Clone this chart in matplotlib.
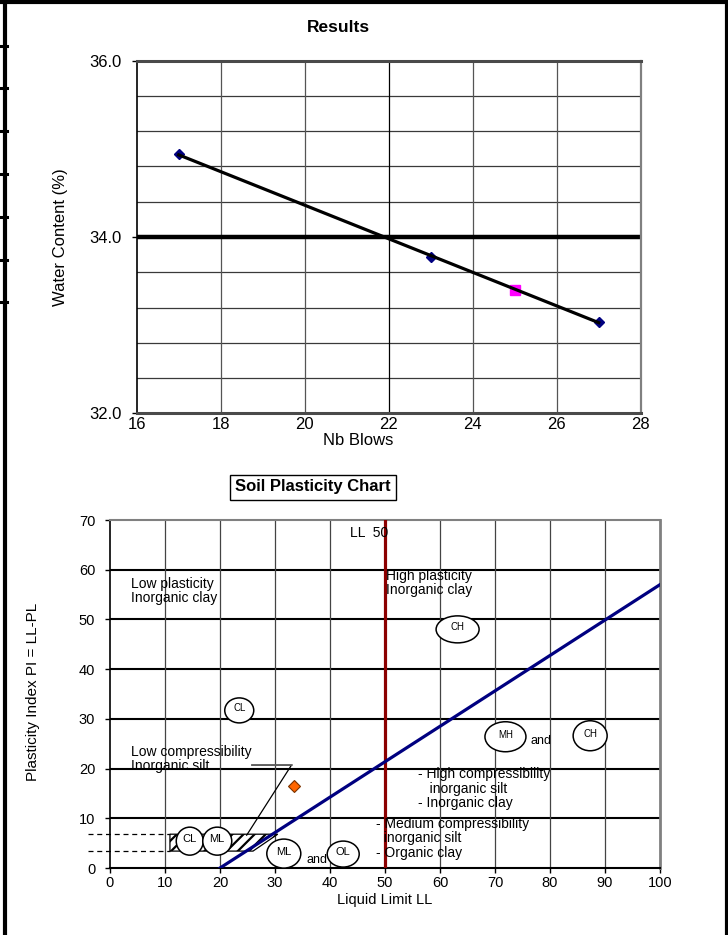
import matplotlib
matplotlib.use("Agg")
import matplotlib.pyplot as plt
import numpy as np
from matplotlib.lines import Line2D
from matplotlib.patches import Ellipse, Polygon

plt.rcParams['font.family'] = ['Liberation Sans', 'DejaVu Sans']
plt.rcParams['hatch.linewidth'] = 1.6

# ---- Liquid limit test (Casagrande cup) ----
blows = [17, 23, 27]
water_content = [34.94, 33.77, 33.04]
ref_blows = 25
liquid_limit = 33.4          # water content read at 25 blows
plasticity_index = 16.4

# ---- Plasticity chart reference lines ----
a_line_ll = [20, 100]
a_line_pi = [0, 57]
ll_boundary = 50
clml_pi_low = 3.4
clml_pi_high = 6.8

W, H = 728, 935
fig = plt.figure(figsize=(W / 100, H / 100), dpi=100)


def fx(px):
    return px / W


def fy(py):
    return 1 - py / H


# page frame
frame = [((5, 5), (0, H)), ((0, W), (2, 2)), ((726.5, 726.5), (0, H))]
for xs, ys in frame:
    fig.add_artist(Line2D([fx(x) for x in xs], [fy(y) for y in ys], color='black',
                          lw=3, transform=fig.transFigure))
for yy in [46, 88, 131, 174, 217, 260, 302]:
    fig.add_artist(Line2D([fx(0), fx(7)], [fy(yy), fy(yy)], color='black', lw=2.2,
                          transform=fig.transFigure))

# ================= Results chart =================
ax1 = fig.add_axes([fx(136.7), fy(413.3), fx(640.7) - fx(136.7), fy(60.7) - fy(413.3)])
ax1.set_xlim(16, 28)
ax1.set_ylim(32, 36)
for yv in np.arange(32.4, 35.99, 0.4):
    if abs(yv - 34) < 1e-9:
        continue
    ax1.axhline(yv, color='#3a3a3a', lw=0.9, zorder=1)
ax1.axhline(34, color='black', lw=3.2, zorder=2)
for xv in range(18, 28, 2):
    ax1.axvline(xv, color='#555555' if xv != 22 else 'black', lw=0.9, zorder=1)

slope, intercept = np.polyfit(blows, water_content, 1)
xfit = np.array([min(blows), max(blows)])
ax1.plot(blows, water_content, linestyle='none', marker='D', ms=5.5,
         color='#000080', zorder=3)
ax1.plot([ref_blows], [liquid_limit], linestyle='none', marker='s', ms=7.5,
         color='#FF00FF', zorder=3)
ax1.plot(xfit, slope * xfit + intercept, color='black', lw=2.3, zorder=4)

ax1.set_xticks(range(16, 29, 2))
ax1.set_yticks([32, 34, 36])
ax1.set_yticklabels(['32.0', '34.0', '36.0'])
ax1.tick_params(axis='both', labelsize=12, direction='out', length=3.6, width=1)
ax1.tick_params(axis='y', pad=7)
ax1.tick_params(axis='x', length=0, pad=3)
for s in ['top', 'bottom']:
    ax1.spines[s].set_linewidth(2.2)
    ax1.spines[s].set_color('#4a4a4a')
ax1.spines['right'].set_color('#808080')
ax1.spines['right'].set_linewidth(1.6)
ax1.spines['left'].set_linewidth(1.2)
ax1.set_ylabel('Water Content (%)', fontsize=12)
ax1.yaxis.set_label_coords(-0.136, 0.5)
ax1.set_xlabel('Nb Blows', fontsize=12)
ax1.xaxis.set_label_coords(0.44, -0.055)
fig.text(fx(338), fy(28), 'Results', fontsize=12.5, fontweight='bold',
         ha='center', va='center')

# ================= Soil plasticity chart =================
ax2 = fig.add_axes([fx(110), fy(868), fx(660) - fx(110), fy(520) - fy(868)])
ax2.set_xlim(0, 100)
ax2.set_ylim(0, 70)
for yv in range(10, 70, 10):
    ax2.axhline(yv, color='black', lw=1.5, zorder=1)
for xv in range(10, 100, 10):
    ax2.axvline(xv, color='#444444', lw=0.9, zorder=1)

ax2.plot([ll_boundary, ll_boundary], [0, 70], color='#8B0000', lw=2.3, zorder=4)
ax2.plot(a_line_ll, a_line_pi, color='#000080', lw=2.3, zorder=4)

# CL-ML band
for pv in (clml_pi_low, clml_pi_high):
    ax2.plot([-4, 10.9], [pv, pv], color='black', lw=0.9, ls=(0, (4, 3)),
             clip_on=False, zorder=3)
band = Polygon([(10.9, clml_pi_low), (10.9, clml_pi_high), (30.5, clml_pi_high),
                (26.0, clml_pi_low)], closed=True, facecolor='white',
               edgecolor='black', hatch='///', lw=0.9, zorder=3)
ax2.add_patch(band)
ax2.plot([25.8, 33.0, 24.85], [20.7, 20.7, 6.6], color='black', lw=0.9, zorder=3)
ax2.plot([25.8, 33.0], [20.7, 20.7], color='#666666', lw=1.2, zorder=3)

ax2.plot([liquid_limit], [plasticity_index], linestyle='none', marker='D', ms=6.5,
         markerfacecolor='#FF6600', markeredgecolor='#7a3300', markeredgewidth=0.8,
         zorder=6)

px_x, px_y = 550 / 100, 348 / 70
zones = [('CL', 23.5, 31.7, 29, 25, 7), ('CH', 63.2, 48.0, 43, 27, 7),
         ('MH', 71.9, 26.4, 41, 30, 7), ('CH', 87.3, 26.6, 34, 30, 7),
         ('CL', 14.5, 5.4, 27, 28, 8), ('ML', 19.5, 5.4, 29, 28, 8),
         ('ML', 31.6, 2.9, 34, 29, 8), ('OL', 42.4, 2.8, 32, 26, 8)]
for code, cx, cy, wp, hp, fs in zones:
    ax2.add_patch(Ellipse((cx, cy), wp / px_x, hp / px_y, facecolor='white',
                          edgecolor='black', lw=1.1, zorder=5, clip_on=False))
    ax2.text(cx, cy + 0.4, code, fontsize=fs, ha='center', va='center', zorder=6)
ax2.text(35.8, 1.6, 'and', fontsize=9, ha='left', va='center', zorder=6)
ax2.text(76.5, 25.6, 'and', fontsize=9, ha='left', va='center', zorder=6)

notes = [(3.9, 58.6, 'Low plasticity\nInorganic clay'),
         (50.2, 60.2, 'High plasticity\nInorganic clay'),
         (3.8, 24.8, 'Low compressibility\nInorganic silt'),
         (56.0, 20.3, '- High compressibility\n   inorganic silt\n- Inorganic clay'),
         (48.4, 10.3, '- Medium compressibility\n  inorganic silt\n- Organic clay')]
for tx, ty, s in notes:
    ax2.text(tx, ty, s, fontsize=10, ha='left', va='top', linespacing=1.05, zorder=6)
ax2.text(43.6, 67.4, 'LL  50', fontsize=10, ha='left', va='center', zorder=6)

ax2.set_xticks(range(0, 101, 10))
ax2.set_yticks(range(0, 71, 10))
ax2.tick_params(axis='both', labelsize=10.5, direction='out', length=3.6, width=1)
ax2.tick_params(axis='x', pad=2.5)
ax2.tick_params(axis='y', pad=7)
ax2.spines['top'].set_color('#808080')
ax2.spines['top'].set_linewidth(1.5)
ax2.spines['right'].set_color('#808080')
ax2.spines['right'].set_linewidth(2)
ax2.spines['left'].set_linewidth(1.2)
ax2.spines['bottom'].set_linewidth(1.5)
ax2.set_ylabel('Plasticity Index PI = LL-PL', fontsize=11)
ax2.yaxis.set_label_coords(-0.127, 0.506)
ax2.set_xlabel('Liquid Limit LL', fontsize=10.5)
ax2.xaxis.set_label_coords(0.5, -0.072)

fig.text(fx(313), fy(487), 'Soil Plasticity Chart', fontsize=12, fontweight='bold',
         ha='center', va='center',
         bbox=dict(boxstyle='square,pad=0.3', facecolor='white', edgecolor='black', lw=1))

fig.savefig('out.png', dpi=100)
